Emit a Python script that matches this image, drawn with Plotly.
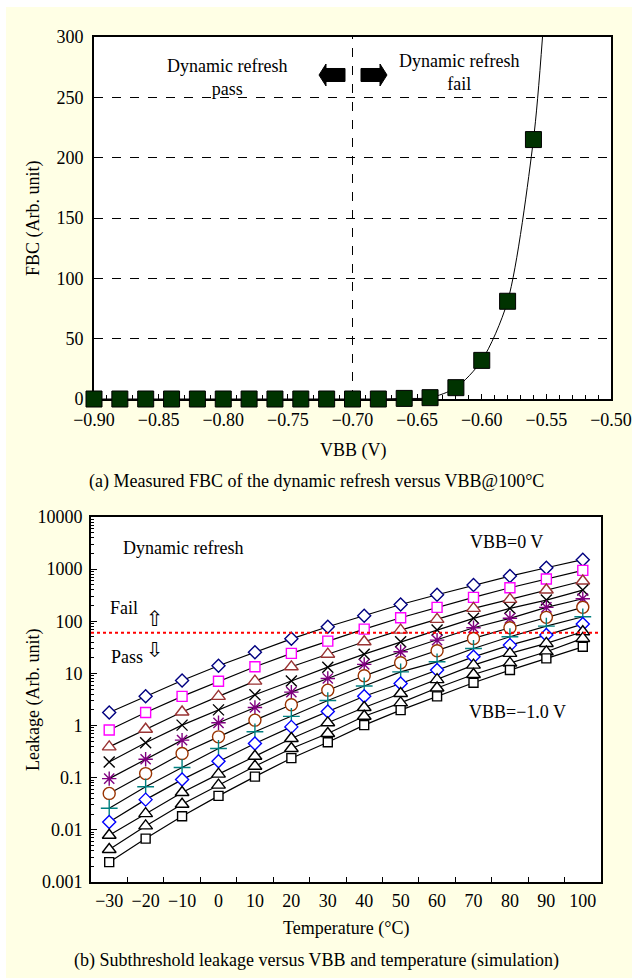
import plotly.graph_objects as go

W, H = 632, 978

# ---------------- data: panel (a) ----------------
vbb = [-0.90, -0.88, -0.86, -0.84, -0.82, -0.80, -0.78, -0.76, -0.74,
       -0.72, -0.70, -0.68, -0.66, -0.64, -0.62, -0.60, -0.58, -0.56]
fbc = [0, 0, 0, 0, 0, 0, 0, 0, 0, 0, 0, 0, 0.5, 1.1, 9.4, 32, 81, 215]
# fitted trend line (continues past the last point)
fit_vbb = vbb + [-0.553]
fit_fbc = fbc + [300]
vbb_threshold = -0.70
x_ticks_a = [-0.90, -0.85, -0.80, -0.75, -0.70, -0.65, -0.60, -0.55, -0.50]
y_ticks_a = [0, 50, 100, 150, 200, 250, 300]

# ---------------- data: panel (b) ----------------
temps = [-30, -20, -10, 0, 10, 20, 30, 40, 50, 60, 70, 80, 90, 100]
leak_vbb_0_0 = [1.78, 3.66, 7.33, 14.0, 25.6, 46.1, 78.5, 128, 210, 323, 495, 736, 1064, 1517]
leak_vbb_0_1 = [0.82, 1.78, 3.63, 7.08, 13.4, 24.2, 41.7, 70.8, 117, 185, 287, 440, 646, 948]
leak_vbb_0_2 = [0.39, 0.85, 1.82, 3.63, 7.11, 13.4, 23.4, 40.5, 67.8, 109, 177, 263, 398, 592]
leak_vbb_0_3 = [0.20, 0.47, 1.02, 2.0, 3.89, 7.16, 13.2, 23.4, 40.5, 67.8, 114, 177, 255, 397]
leak_vbb_0_4 = [0.096, 0.226, 0.525, 1.13, 2.22, 4.37, 8.0, 14.9, 26.0, 43.6, 75.2, 114, 185, 271]
leak_vbb_0_5 = [0.050, 0.120, 0.291, 0.608, 1.27, 2.51, 4.78, 9.0, 16.0, 27.2, 46.9, 75.2, 119, 185]
leak_vbb_0_6 = [0.026, 0.067, 0.157, 0.363, 0.76, 1.50, 3.02, 5.75, 10.7, 16.7, 30.1, 50.5, 80.9, 122]
leak_vbb_0_7 = [0.0142, 0.038, 0.092, 0.207, 0.453, 0.944, 1.86, 3.66, 6.41, 11.6, 20.8, 34.9, 54.3, 88.3]
leak_vbb_0_8 = [0.0079, 0.0205, 0.052, 0.117, 0.258, 0.565, 1.13, 2.22, 4.12, 7.59, 14.4, 24.2, 37.6, 63.0]
leak_vbb_0_9 = [0.0042, 0.0119, 0.031, 0.072, 0.166, 0.363, 0.705, 1.51, 2.73, 5.25, 9.55, 15.8, 26.0, 46.9]
leak_vbb_1_0 = [0.0024, 0.0068, 0.0182, 0.0448, 0.105, 0.237, 0.48, 1.02, 1.98, 3.63, 6.61, 11.6, 19.4, 32.4]
leak_series = [leak_vbb_0_0, leak_vbb_0_1, leak_vbb_0_2, leak_vbb_0_3, leak_vbb_0_4, leak_vbb_0_5,
               leak_vbb_0_6, leak_vbb_0_7, leak_vbb_0_8, leak_vbb_0_9, leak_vbb_1_0]
series_names = ["VBB=0 V", "VBB=-0.1 V", "VBB=-0.2 V", "VBB=-0.3 V", "VBB=-0.4 V", "VBB=-0.5 V",
                "VBB=-0.6 V", "VBB=-0.7 V", "VBB=-0.8 V", "VBB=-0.9 V", "VBB=-1.0 V"]
leak_threshold = 60
x_ticks_b = [-30, -20, -10, 0, 10, 20, 30, 40, 50, 60, 70, 80, 90, 100]
x_minor_b = [-25, -15, -5, 5, 15, 25, 35, 45, 55, 65, 75, 85, 95]
y_ticks_b = [0.001, 0.01, 0.1, 1, 10, 100, 1000, 10000]
y_ticklabels_b = ["0.001", "0.01", "0.1", "1", "10", "100", "1000", "10000"]

# ---------------- styles ----------------
symbols = ["diamond", "square", "triangle-up", "x-thin", "asterisk", "circle",
           "cross-thin", "diamond", "triangle-up", "triangle-up", "square"]
colors = ["#000080", "#FF00FF", "#993333", "#000000", "#800080", "#993300",
          "#008080", "#0000FF", "#000000", "#000000", "#000000"]
sizes = [10, 10, 12, 11, 12, 12, 12, 10, 12, 12, 9]

FONT = "Liberation Serif"
BG = "#FFFFE5"


def px(x):
    return x / W


def py(y):
    return 1 - y / H


fig = go.Figure()

# panel (a)
fig.add_trace(go.Scatter(x=fit_vbb, y=fit_fbc, mode="lines", line=dict(color="black", width=1, shape="spline", smoothing=0.8),
                         xaxis="x", yaxis="y", showlegend=False, hoverinfo="skip"))
fig.add_trace(go.Scatter(x=vbb, y=fbc, mode="markers", cliponaxis=False,
                         marker=dict(symbol="square", size=16, color="#003300", line=dict(color="black", width=1)),
                         xaxis="x", yaxis="y", showlegend=False))

# panel (b)
for vals, sym, col, sz, nm in zip(leak_series, symbols, colors, sizes, series_names):
    thin = sym.endswith("thin") or sym == "asterisk"
    fig.add_trace(go.Scatter(
        x=temps, y=vals, mode="lines+markers", name=nm, cliponaxis=False,
        line=dict(color="black", width=1.2),
        marker=dict(symbol=sym + ("-open" if thin else ""), size=sz,
                    color=col if thin else "white",
                    line=dict(color=col, width=1.4)),
        xaxis="x2", yaxis="y2", showlegend=False))

axis_common = dict(showline=True, linecolor="black", linewidth=2, mirror=True, zeroline=False,
                   tickfont=dict(family=FONT, size=18, color="black"), automargin=False)

fig.update_layout(
    width=W, height=H, margin=dict(l=0, r=0, t=0, b=0),
    paper_bgcolor=BG, plot_bgcolor="white",
    xaxis=dict(domain=[px(94), px(611)], anchor="y", range=[-0.90, -0.50],
               tickvals=x_ticks_a, ticktext=[f"{v:.2f}".replace("-", "\u2212") for v in x_ticks_a],
               ticks="inside", ticklen=5, tickcolor="black", showgrid=False, layer="below traces",
               minor=dict(dtick=0.01, tick0=-0.90, ticks="inside", ticklen=4, tickcolor="black"),
               ticklabelstandoff=3, **axis_common),
    yaxis=dict(domain=[py(399), py(37)], anchor="x", range=[0, 300],
               tickvals=y_ticks_a, ticks="", showgrid=True, gridcolor="black", griddash="dash",
               gridwidth=1, ticklabelstandoff=5, layer="below traces", **axis_common),
    xaxis2=dict(domain=[px(91), px(601)], anchor="y2", range=[-35, 105],
                tickvals=x_ticks_b, ticktext=[str(v).replace("-", "\u2212") for v in x_ticks_b],
                ticks="", showgrid=False, ticklabelstandoff=1,
                minor=dict(tickvals=x_minor_b, ticks="inside", ticklen=5, tickcolor="black"),
                **axis_common),
    yaxis2=dict(domain=[py(882), py(517)], anchor="x2", type="log", range=[-3, 4],
                tickvals=y_ticks_b, ticktext=y_ticklabels_b, ticks="inside", ticklen=6, tickcolor="black",
                showgrid=False, ticklabelstandoff=3,
                minor=dict(ticks="inside", ticklen=3, tickcolor="black", dtick="D1"),
                **axis_common),
)

shapes = [
    # white border strips of the page
    dict(type="rect", xref="paper", yref="paper", x0=0, x1=1, y0=py(7), y1=1,
         fillcolor="white", line=dict(width=0), layer="below"),
    dict(type="rect", xref="paper", yref="paper", x0=0, x1=px(6), y0=0, y1=1,
         fillcolor="white", line=dict(width=0), layer="below"),
    # vertical boundary line
    dict(type="line", xref="x", yref="y", x0=vbb_threshold, x1=vbb_threshold, y0=0, y1=300,
         line=dict(color="black", width=1, dash="dash"), layer="below"),
    # red threshold line
    dict(type="line", xref="x2 domain", yref="y2", x0=0, x1=1, y0=leak_threshold, y1=leak_threshold,
         line=dict(color="#FF0000", width=2, dash="dot"), layer="above"),
]


def block_arrow(tip_x, cy, direction):
    # direction -1 = left, +1 = right; sizes in px
    head_len, head_half, shaft_len, shaft_half = 7, 11, 19, 6.5
    d = direction
    base = tip_x - d * head_len
    end = base - d * shaft_len
    pts = [(tip_x, cy), (base, cy - head_half), (base, cy - shaft_half), (end, cy - shaft_half),
           (end, cy + shaft_half), (base, cy + shaft_half), (base, cy + head_half)]
    path = "M " + " L ".join(f"{px(a):.5f},{py(b):.5f}" for a, b in pts) + " Z"
    return dict(type="path", xref="paper", yref="paper", path=path, fillcolor="black",
                line=dict(color="black", width=1))


shapes.append(block_arrow(319, 75, -1))
shapes.append(block_arrow(387, 75, +1))
fig.update_layout(shapes=shapes)

ann = []


def text(x, y, s, size=18, angle=0, family=FONT):
    ann.append(dict(x=px(x), y=py(y), xref="paper", yref="paper", text=s, showarrow=False,
                    font=dict(family=family, size=size, color="black"), textangle=angle,
                    xanchor="center", yanchor="middle"))


text(227, 78, "Dynamic refresh<br>pass")
text(459, 73, "Dynamic refresh<br>fail")
text(33, 218, "FBC (Arb. unit)", angle=-90)
text(353, 450, "VBB (V)")
text(316, 481, "(a) Measured FBC of the dynamic refresh versus VBB@100\u00b0C", size=18)

text(183, 548, "Dynamic refresh")
text(124, 608, "Fail")
text(127, 657, "Pass")
text(155, 619, "\u21e7", size=21, family="DejaVu Sans")
text(155, 650, "\u21e9", size=21, family="DejaVu Sans")
text(507, 542, "VBB=0 V")
text(517, 712, "VBB=\u22121.0 V")
text(33, 700, "Leakage (Arb. unit)", angle=-90)
text(346, 928, "Temperature (\u00b0C)")
text(316, 960, "(b) Subthreshold leakage versus VBB and temperature (simulation)", size=18)

fig.update_layout(annotations=ann)
fig.write_html("out.html")
